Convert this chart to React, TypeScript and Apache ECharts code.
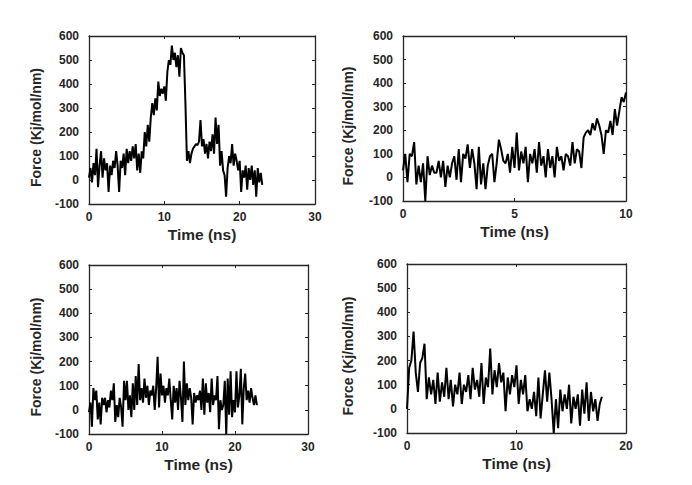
import React, { useEffect, useRef } from "react";
import * as echarts from "echarts";

// Force (Kj/mol/nm) traces, sampled at regular time steps (ns)
const step1 = 0.2;
const force1 = [
  10, 50, -10, 70, 20, 130, -30, 60, 120, 10, 90, 40, 70, -50, 60, 20, 80, 50, 120, 60,
  -50, 80, 50, 110, 20, 130, 70, 120, 80, 140, 90, 150, 40, 110, 30, 120, 90, 200, 140, 230,
  160, 260, 320, 270, 340, 290, 410, 350, 380, 360, 390, 330, 450, 500, 480, 560, 500, 530, 470, 520,
  430, 550, 530, 520, 320, 80, 120, 70, 110, 130, 140, 150, 145, 160, 250, 140, 170, 110, 150, 90,
  160, 120, 190, 110, 260, 150, 230, 60, 120, 40, 20, -70, 50, 100, 70, 150, 60, 110, 80, 40,
  80, -50, 40, 10, 60, -40, 50, 0, 60, -20, 40, -70, 50, -10, 30, -20,
];

const step2 = 0.1;
const force2 = [
  30, 100, -20, 100, 90, 150, -30, 50, -20, 60, -100, 90, 10, 50, 20, 20, 70, 0, 70, -40,
  50, 0, 60, 90, -10, 120, -20, 100, 80, 140, 40, 120, 60, -50, 130, -30, 60, -50, 50, 90,
  100, -20, 60, 160, 120, 70, 60, 100, 20, 130, 40, 190, 30, 110, 60, 130, -20, 100, 60, 120,
  20, 150, 50, 90, 0, 120, 40, 90, 0, 130, 70, 90, 30, 100, 90, 50, 150, 60, 120, 110,
  40, 170, 190, 200, 180, 230, 200, 250, 220, 180, 100, 200, 190, 240, 180, 290, 220, 280, 340, 320,
  360,
];

const step3 = 0.2;
const force3 = [
  -10, 30, -70, 90, 40, 80, -40, 30, -60, 50, 20, 50, -10, 40, 10, 80, 40, 110, -50, 20,
  -30, 50, 10, -70, 120, 40, 120, 0, 60, -30, 110, 0, 140, 20, 190, 40, 90, 30, 130, 50,
  100, 20, 80, 60, 100, 0, 90, 220, 10, 150, 60, 100, 30, 90, 60, 130, 40, -40, 100, 30,
  90, 0, 120, 50, -50, 200, 20, 110, 40, 90, 50, -60, 70, 30, 60, 40, 80, 0, 130, -20,
  110, 30, 70, -10, 130, 20, 60, 40, 140, -80, 40, 0, 20, 120, -100, 130, -20, 160, -30, 40,
  -10, 160, 10, 60, 170, -60, 90, 150, 40, 80, 30, 90, 50, 20, 60, 20,
];

const step4 = 0.2;
const force4 = [
  0, 170, 200, 320, 150, 70, 190, 210, 270, 40, 130, 60, 120, 20, 150, 30, 110, 50, 170, 40,
  120, 10, 100, 60, 150, 20, 100, 70, 140, 40, 170, 80, 120, 50, 190, 20, 130, 90, 250, 60,
  160, 90, 190, 110, 150, -10, 130, 60, 140, 90, 180, 20, 120, 60, 140, -10, 40, 0, 70, -30,
  130, -40, 60, 160, 30, 150, 40, -100, 40, -80, 80, -10, 60, 0, 100, -60, 50, 0, 60, -70,
  80, -20, 110, -50, 70, -10, 40, -50, 20, 50,
];

const xMax = [30, 10, 30, 20];
const xInterval = [10, 5, 10, 10];
const yMin = -100;
const yMax = 600;
const yInterval = 100;
const xTitle = "Time (ns)";
const yTitle = "Force (Kj/mol/nm)";

const grids = [
  { left: 89, top: 36, width: 226, height: 168 },
  { left: 403, top: 36, width: 223, height: 165 },
  { left: 89, top: 265, width: 219, height: 169 },
  { left: 407, top: 264, width: 219, height: 169 },
];

const toPairs = (vals: number[], step: number) =>
  vals.map((v, i) => [Number((i * step).toFixed(3)), v]);

export default function App() {
  const ref = useRef<HTMLDivElement>(null);
  useEffect(() => {
    document.body.style.margin = "0";
    if (!ref.current) return;
    const chart = echarts.init(ref.current, undefined, { renderer: "svg" });
    const axisColor = "#262626";
    const font = "'Liberation Sans', Arial, Helvetica, sans-serif";
    const series = [
      toPairs(force1, step1),
      toPairs(force2, step2),
      toPairs(force3, step3),
      toPairs(force4, step4),
    ];
    const lineCfg = { show: true, onZero: false, lineStyle: { color: axisColor, width: 1.3 } };
    const tickCfg = { show: true, inside: true, length: 3, lineStyle: { color: axisColor } };
    const xAxes: any[] = [];
    const yAxes: any[] = [];
    grids.forEach((_, g) => {
      const common = {
        gridIndex: g,
        type: "value",
        min: 0,
        max: xMax[g],
        interval: xInterval[g],
        axisLine: lineCfg,
        axisTick: tickCfg,
        splitLine: { show: false },
      };
      xAxes.push({
        ...common,
        position: "bottom",
        name: xTitle,
        nameLocation: "middle",
        nameGap: 22,
        nameTextStyle: { color: axisColor, fontSize: 15.5, fontWeight: "bold", fontFamily: font },
        axisLabel: { color: axisColor, fontSize: 12, fontWeight: "bold", fontFamily: font, margin: 7, showMinLabel: true, showMaxLabel: true },
      });
      xAxes.push({ ...common, position: "top", axisLabel: { show: false } });
      const ycommon = {
        gridIndex: g,
        type: "value",
        min: yMin,
        max: yMax,
        interval: yInterval,
        axisLine: lineCfg,
        axisTick: tickCfg,
        splitLine: { show: false },
      };
      yAxes.push({
        ...ycommon,
        position: "left",
        name: yTitle,
        nameLocation: "middle",
        nameGap: g === 3 ? 52 : g === 1 ? 48 : 46,
        nameTextStyle: {
          color: axisColor,
          fontSize: 14,
          fontWeight: "bold",
          fontFamily: font,
          padding: [0, 15, 0, 0],
        },
        axisLabel: { color: axisColor, fontSize: 12, fontWeight: "bold", fontFamily: font, margin: 10 },
      });
      yAxes.push({ ...ycommon, position: "right", axisLabel: { show: false } });
    });
    chart.setOption({
      animation: false,
      backgroundColor: "#ffffff",
      grid: grids,
      xAxis: xAxes,
      yAxis: yAxes,
      series: series.map((d, g) => ({
        type: "line",
        xAxisIndex: g * 2,
        yAxisIndex: g * 2,
        data: d,
        showSymbol: false,
        lineStyle: { color: "#000000", width: 2 },
      })),
    });
    return () => chart.dispose();
  }, []);
  return <div ref={ref} style={{ width: 692, height: 485 }} />;
}
